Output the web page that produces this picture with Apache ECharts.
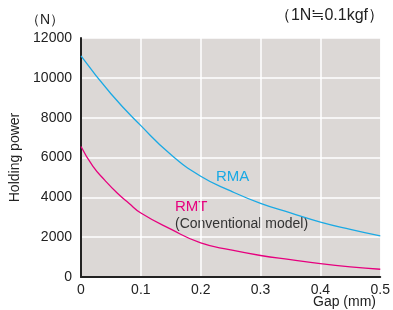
<!DOCTYPE html>
<html>
<head>
<meta charset="utf-8">
<script src="https://cdn.jsdelivr.net/npm/echarts@6/dist/echarts.min.js"></script>
<style>
  html, body { margin: 0; padding: 0; background: #fff; }
  #chart { width: 393px; height: 310px; }
</style>
</head>
<body>
<div id="chart"></div>
<script>
// gap (mm) and holding power (N)
var gapRMA = [0, 0.05, 0.1, 0.15, 0.2, 0.25, 0.3, 0.35, 0.4, 0.45, 0.5];
var powerRMA = [11100, 9200, 7600, 6150, 5060, 4320, 3700, 3220, 2760, 2390, 2060];

var gapRMT = [0, 0.02, 0.04, 0.06, 0.08, 0.1, 0.15, 0.2, 0.25, 0.3, 0.35, 0.4, 0.45, 0.5];
var powerRMT = [6550, 5550, 4850, 4230, 3700, 3210, 2400, 1710, 1360, 1080, 870, 670, 510, 390];

var xTicks = [0, 0.1, 0.2, 0.3, 0.4, 0.5];
var yTicks = [0, 2000, 4000, 6000, 8000, 10000, 12000];

function pairs(xs, ys) {
    var out = [];
    for (var i = 0; i < xs.length; i++) {
        out.push([xs[i], ys[i]]);
    }
    return out;
}

var myChart = echarts.init(document.getElementById("chart"));
var font = "'Liberation Sans', Arial, sans-serif";

var option = {
    animation: false,
    textStyle: { fontFamily: font },
    grid: {
        left: 81,
        right: 11,
        top: 38,
        bottom: 33,
        show: true,
        backgroundColor: '#dcd8d6',
        borderWidth: 0
    },
    xAxis: {
        type: 'value',
        min: xTicks[0],
        max: xTicks[xTicks.length - 1],
        interval: 0.1,
        axisLine: { show: true, onZero: false, lineStyle: { color: '#222', width: 2 } },
        axisTick: { show: false },
        axisLabel: { color: '#222', fontSize: 14, margin: 6, fontFamily: font },
        splitLine: { show: true, lineStyle: { color: '#fff', width: 1.5 } }
    },
    yAxis: {
        type: 'value',
        min: yTicks[0],
        max: yTicks[yTicks.length - 1],
        interval: 2000,
        name: 'Holding power',
        nameLocation: 'middle',
        nameGap: 54,
        nameTextStyle: { color: '#222', fontSize: 14, fontFamily: font },
        axisLine: { show: true, lineStyle: { color: '#222', width: 2 } },
        axisTick: { show: false },
        axisLabel: {
            color: '#222', fontSize: 14, margin: 9, fontFamily: font,
            formatter: function (v) { return String(v); }
        },
        splitLine: { show: true, lineStyle: { color: '#fff', width: 1.5 } }
    },
    series: [
        {
            name: 'RMA',
            type: 'line',
            smooth: 0.5,
            symbol: 'none',
            lineStyle: { color: '#1aa9e4', width: 1.3 },
            data: pairs(gapRMA, powerRMA)
        },
        {
            name: 'RMT',
            type: 'line',
            smooth: 0.5,
            symbol: 'none',
            lineStyle: { color: '#e6007e', width: 1.3 },
            data: pairs(gapRMT, powerRMT)
        }
    ],
    graphic: [
        { type: 'text', left: 26, top: 13, style: { text: '（N）', fill: '#222', font: '14px ' + font } },
        { type: 'text', right: 9, top: 8, style: { text: '（1N≒0.1kgf）', fill: '#222', font: '16px ' + font } },
        { type: 'text', left: 313, top: 295, style: { text: 'Gap (mm)', fill: '#222', font: '14px ' + font } },
        { type: 'text', left: 216, top: 169, style: { text: 'RMA', fill: '#1aa9e4', font: '15px ' + font } },
        { type: 'text', left: 175, top: 199, style: { text: 'RMT', fill: '#e6007e', font: '15px ' + font } },
        { type: 'text', left: 175, top: 217, style: { text: '(Conventional model)', fill: '#333', font: '14px ' + font } }
    ]
};

myChart.setOption(option);
</script>
</body>
</html>
